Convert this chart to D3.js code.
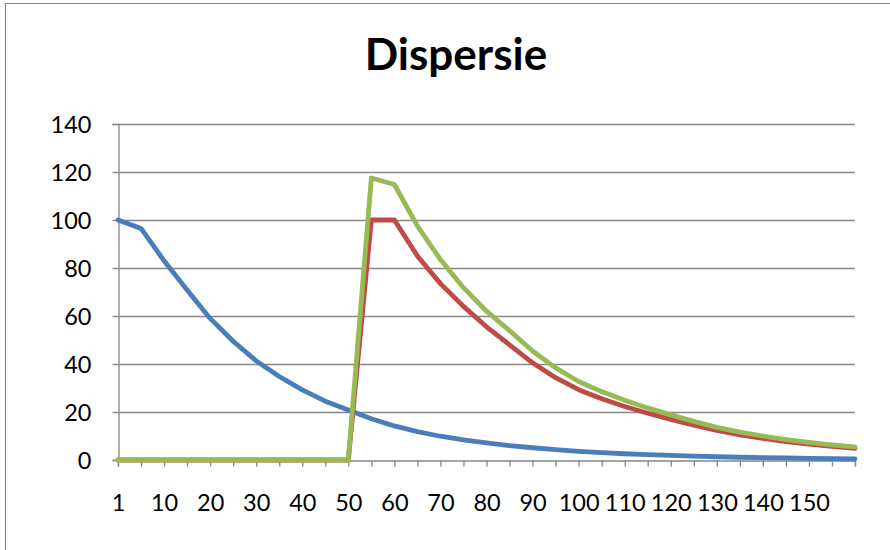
<!DOCTYPE html>
<html>
<head>
    <title>Dispersie</title>
    <script src="https://d3js.org/d3.v7.min.js"></script>
    <style>
        body { margin: 0; background: #fff; }
        svg { display: block; }
        .axis text { font-family: Lato, "Open Sans", sans-serif; font-size: 23.5px; fill: #000; }
        .title { font-family: Lato, "Open Sans", sans-serif; font-weight: bold; font-size: 44px; }
    </style>
</head>
<body>
<svg width="890" height="550"></svg>

<script>
// categories on the x axis
const categories = [1, 5, 10, 15, 20, 25, 30, 35, 40, 45, 50, 55, 60, 65, 70, 75, 80,
                    85, 90, 95, 100, 105, 110, 115, 120, 125, 130, 135, 140, 145, 150, 155, 160];
// labels Excel actually printed (every other category, last one dropped)
const xLabels = ["1", "10", "20", "30", "40", "50", "60", "70", "80", "90",
                 "100", "110", "120", "130", "140", "150"];
const yTicks = [0, 20, 40, 60, 80, 100, 120, 140];

const blueValues = [100, 96.5, 83, 70.8, 59, 49.5, 41.3, 34.8, 29.2, 24.5, 20.8, 17.2, 14.2,
                    11.8, 9.9, 8.4, 7.1, 6.0, 5.1, 4.3, 3.6, 3.1, 2.6, 2.2, 1.9, 1.6, 1.35,
                    1.15, 1.0, 0.85, 0.7, 0.6, 0.5];
const redValues = [0, 0, 0, 0, 0, 0, 0, 0, 0, 0, 0, 100, 100, 85, 73.5, 64, 55.5, 48, 40.5,
                   34.3, 29.3, 25.5, 22.3, 19.5, 16.9, 14.5, 12.3, 10.5, 9.0, 7.7, 6.6, 5.7, 4.9];
const greenValues = [0, 0, 0, 0, 0, 0, 0, 0, 0, 0, 0, 117.5, 114.8, 97.5, 83.5, 71.8, 62,
                     53.9, 45.4, 38.4, 32.7, 28.5, 24.9, 21.7, 18.8, 16.1, 13.6, 11.6, 10.0, 8.5,
                     7.3, 6.3, 5.5];

const seriesColors = ["#4A7EBB", "#BE4B48", "#98B954"];

const svg = d3.select("svg");
const gridColor = "#868686";

// chart area border (only left and top edges are in frame)
svg.append("path")
   .attr("d", "M5.5,550V3.5H890")
   .attr("fill", "none")
   .attr("stroke", gridColor)
   .attr("stroke-width", 1.2);

svg.append("text")
   .attr("class", "title")
   .attr("x", 456)
   .attr("y", 70)
   .attr("text-anchor", "middle")
   .text("Dispersie");

const x = d3.scalePoint().domain(categories).range([118, 855]);
const y = d3.scaleLinear().domain([0, 140]).range([460, 124]);

// gridlines
svg.append("g")
   .selectAll("line")
   .data(yTicks.slice(1))
   .join("line")
   .attr("x1", 118).attr("x2", 855)
   .attr("y1", d => Math.round(y(d)) + 0.5)
   .attr("y2", d => Math.round(y(d)) + 0.5)
   .attr("stroke", gridColor)
   .attr("stroke-width", 1.3);

// y axis
const yAxis = svg.append("g")
   .attr("class", "axis")
   .attr("transform", "translate(118.5,0)")
   .call(d3.axisLeft(y).tickValues(yTicks).tickSize(6).tickPadding(0).tickFormat(d3.format("d")));
yAxis.select(".domain").attr("stroke", gridColor).attr("stroke-width", 1.3);
yAxis.selectAll(".tick line").attr("stroke", gridColor).attr("stroke-width", 1.3);
yAxis.selectAll("text").attr("x", -27).attr("dy", "0.36em");

// x axis
const xAxis = svg.append("g")
   .attr("class", "axis")
   .attr("transform", "translate(0,460.5)")
   .call(d3.axisBottom(x).tickSize(6)
           .tickFormat(d => xLabels.includes(String(d)) ? String(d) : ""));
xAxis.select(".domain").attr("stroke", gridColor).attr("stroke-width", 1.3);
xAxis.selectAll(".tick line").attr("stroke", gridColor).attr("stroke-width", 1.3);
xAxis.selectAll("text").attr("y", 50).attr("dy", null);

// series
const line = d3.line()
   .x((d, i) => x(categories[i]))
   .y(d => y(d));

[blueValues, redValues, greenValues].forEach((vals, k) => {
    svg.append("path")
       .datum(vals)
       .attr("fill", "none")
       .attr("stroke", seriesColors[k])
       .attr("stroke-width", 4.8)
       .attr("stroke-linejoin", "round")
       .attr("stroke-linecap", "round")
       .attr("d", line);
});
</script>
</body>
</html>
